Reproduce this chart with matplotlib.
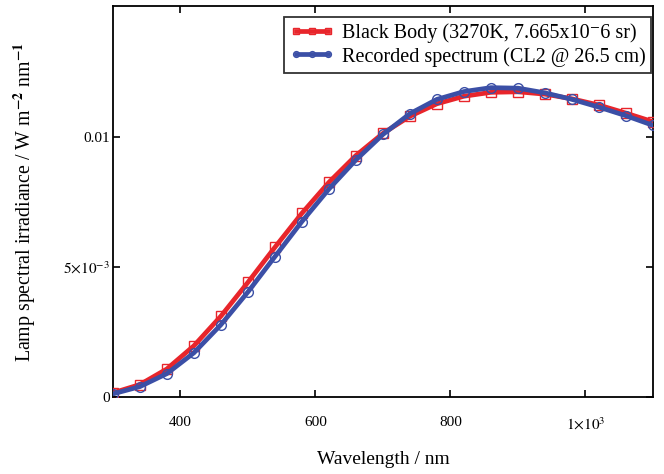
import matplotlib
matplotlib.use("Agg")
import matplotlib.pyplot as plt

plt.rcParams['font.family'] = ['Liberation Serif', 'DejaVu Serif']
plt.rcParams['mathtext.fontset'] = 'stix'

wavelength = [300, 340, 380, 420, 460, 500, 540, 580, 620, 660, 700,
              740, 780, 820, 860, 900, 940, 980, 1020, 1060, 1100]
black_body = [0.00016, 0.00048, 0.00108, 0.00197, 0.00311, 0.00441, 0.00576,
              0.00707, 0.00826, 0.00929, 0.01014, 0.01080, 0.01128, 0.01157,
              0.01172, 0.01174, 0.01165, 0.01147, 0.01123, 0.01092, 0.01059]
recorded = [0.00012, 0.00040, 0.00090, 0.00170, 0.00278, 0.00404, 0.00540,
            0.00675, 0.00800, 0.00912, 0.01010, 0.01090, 0.01145, 0.01175,
            0.01190, 0.01188, 0.01170, 0.01145, 0.01115, 0.01082, 0.01045]

x_ticks = [400, 600, 800, 1000]
x_tick_labels = ['400', '600', '800', r'$1{\times}10^{3}$']
y_ticks = [0, 0.005, 0.01]
y_tick_labels = ['0', r'$5{\times}10^{-3}$', '0.01']

fig = plt.figure(figsize=(6.64, 4.74), dpi=100)
ax = fig.add_axes([0.170, 0.1624, 0.8134, 0.8249])

red = '#e8252b'
blue = '#3b4fa6'
ax.plot(wavelength, black_body, color=red, lw=3.4, marker='s', ms=7,
        mfc='none', mec=red, mew=1.0,
        label='Black Body (3270K, 7.665x10\u207b6 sr)', zorder=3)
ax.plot(wavelength, recorded, color=blue, lw=3.4, marker='o', ms=7,
        mfc='none', mec=blue, mew=1.0,
        label='Recorded spectrum (CL2 @ 26.5 cm)', zorder=4)

ax.set_xlim(300, 1100)
ax.set_ylim(0, 0.01504)
ax.set_xticks(x_ticks)
ax.set_xticklabels(x_tick_labels)
ax.set_yticks(y_ticks)
ax.set_yticklabels(y_tick_labels)
ax.tick_params(direction='in', top=True, right=True, length=5, width=1.2,
               labelsize=11)
ax.tick_params(axis='x', pad=14)
ax.tick_params(axis='y', pad=2)
for s in ax.spines.values():
    s.set_linewidth(1.3)

ax.set_xlabel('Wavelength / nm', fontsize=14)
ax.xaxis.set_label_coords(0.5, -0.138)
ax.set_ylabel(r'Lamp spectral irradiance / W m$^{\mathbf{-2}}$ nm$^{\mathbf{-1}}$',
              fontsize=14.3)
ax.yaxis.label.set_va('center')
ax.yaxis.set_label_coords(-0.163, 0.5)

leg = ax.legend(loc='upper right', bbox_to_anchor=(0.997, 0.972),
                fontsize=14.5, frameon=True, fancybox=False, framealpha=1,
                edgecolor='#333333', handlelength=2.2, handletextpad=0.35,
                borderpad=0.3, labelspacing=0.2, markerscale=0.6,
                numpoints=3, borderaxespad=0.0)
leg.get_frame().set_linewidth(1.3)

fig.savefig('out.png', dpi=100)
